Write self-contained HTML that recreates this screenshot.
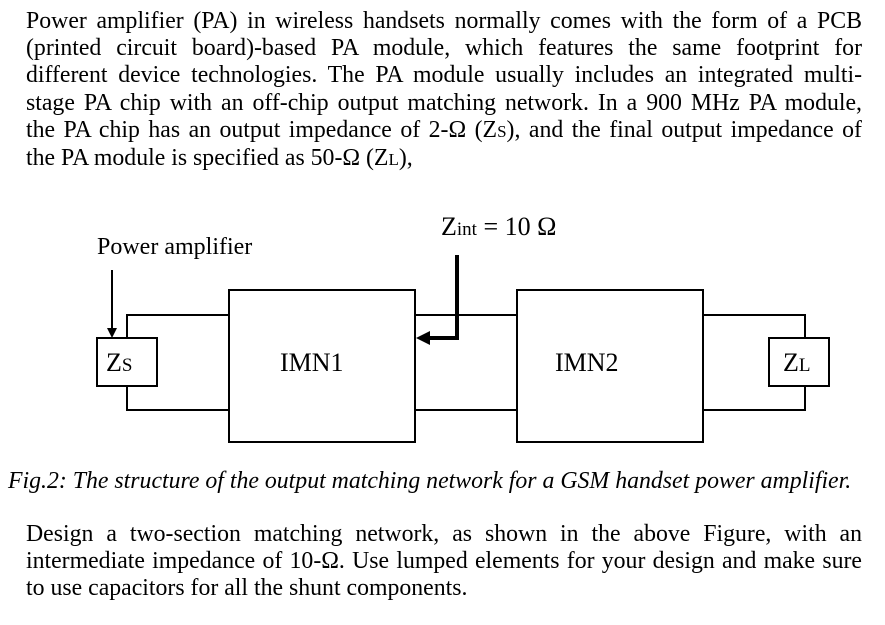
<!DOCTYPE html>
<html><head><style>
body{margin:0;width:885px;height:625px;background:#fff;position:relative;font-family:"Liberation Serif",serif;color:#000;overflow:hidden}
.p{position:absolute;left:26px;width:836px;font-size:23.8px;line-height:27.2px;text-align:justify}
.t{position:absolute;font-size:24px;white-space:nowrap;line-height:1}
.jl{text-align-last:justify;white-space:nowrap}
</style></head><body>
<div class="p" style="top:8px">
<div class="jl">Power amplifier (PA) in wireless handsets normally comes with the form of a PCB</div>
<div class="jl">(printed circuit board)-based PA module, which features the same footprint for</div>
<div class="jl">different device technologies. The PA module usually includes an integrated multi-</div>
<div class="jl">stage PA chip with an off-chip output matching network. In a 900 MHz PA module,</div>
<div class="jl">the PA chip has an output impedance of 2-Ω (Z<span style="font-size:17px">S</span>), and the final output impedance of</div>
<div>the PA module is specified as 50-Ω (Z<span style="font-size:17px">L</span>),</div>
</div>
<svg width="885" height="625" style="position:absolute;left:0;top:0">
<g fill="none" stroke="#000" stroke-width="2">
<rect x="97" y="338" width="60" height="48"/>
<rect x="229" y="290" width="186" height="152"/>
<rect x="517" y="290" width="186" height="152"/>
<rect x="769" y="338" width="60" height="48"/>
<polyline points="127,338 127,315 229,315"/>
<polyline points="127,386 127,410 229,410"/>
<line x1="415" y1="315" x2="517" y2="315"/>
<line x1="415" y1="410" x2="517" y2="410"/>
<polyline points="703,315 805,315 805,338"/>
<polyline points="703,410 805,410 805,386"/>
<line x1="112" y1="270" x2="112" y2="330"/>
<polyline points="457,255 457,338 428,338" stroke-width="4"/>
</g>
<polygon points="107,328 117,328 112,338" fill="#000"/>
<polygon points="416,338 430,331 430,345" fill="#000"/>
</svg>
<div class="t" style="left:97px;top:235px">Power amplifier</div>
<div class="t" style="left:441px;top:214px;font-size:26px">Z<span style="font-size:19px">int</span> = 10 Ω</div>
<div class="t" style="left:106px;top:350px;font-size:26px">Z<span style="font-size:19px">S</span></div>
<div class="t" style="left:280px;top:350px;font-size:26px">IMN1</div>
<div class="t" style="left:555px;top:350px;font-size:26px">IMN2</div>
<div class="t" style="left:783px;top:350px;font-size:26px">Z<span style="font-size:19px">L</span></div>
<div class="t" style="left:8px;top:470px;font-style:italic;font-size:23.8px">Fig.2: The structure of the output matching network for a GSM handset power amplifier.</div>
<div class="p" style="top:521px">
<div class="jl">Design a two-section matching network, as shown in the above Figure, with an</div>
<div class="jl">intermediate impedance of 10-Ω. Use lumped elements for your design and make sure</div>
<div>to use capacitors for all the shunt components.</div>
</div>
</body></html>
